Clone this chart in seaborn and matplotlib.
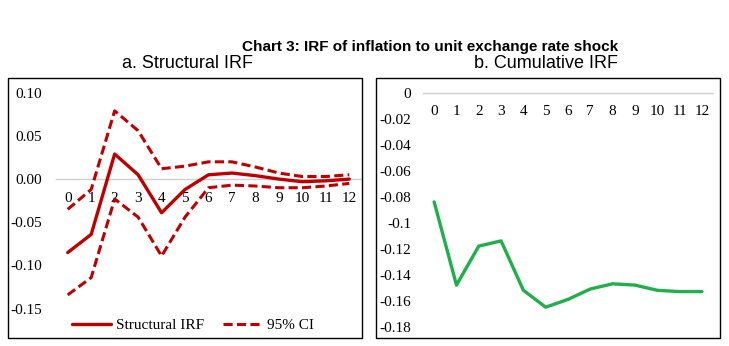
import matplotlib
matplotlib.use("Agg")
import matplotlib.pyplot as plt
import seaborn as sns
import pandas as pd
from matplotlib.patches import Rectangle

sns.set_theme(style="white")
plt.rcParams['font.family'] = ['Liberation Serif', 'DejaVu Serif']
plt.rcParams['text.color'] = 'black'

horizon = list(range(13))
structural_irf = [-0.085, -0.064, 0.029, 0.005, -0.039, -0.012, 0.005, 0.007, 0.004, 0.000, -0.003, -0.002, 0.000]
ci_upper = [-0.035, -0.012, 0.079, 0.056, 0.012, 0.015, 0.020, 0.020, 0.014, 0.007, 0.003, 0.003, 0.005]
ci_lower = [-0.134, -0.114, -0.023, -0.044, -0.089, -0.044, -0.010, -0.007, -0.008, -0.010, -0.010, -0.008, -0.005]
cumulative_irf = [-0.084, -0.148, -0.118, -0.114, -0.152, -0.165, -0.159, -0.151, -0.147, -0.148, -0.152, -0.153, -0.153]

left_yticks = [0.10, 0.05, 0.00, -0.05, -0.10, -0.15]
left_yticklabels = ["0.10", "0.05", "0.00", "-0.05", "-0.10", "-0.15"]
right_yticks = [0, -0.02, -0.04, -0.06, -0.08, -0.10, -0.12, -0.14, -0.16, -0.18]
right_yticklabels = ["0", "-0.02", "-0.04", "-0.06", "-0.08", "-0.1", "-0.12", "-0.14", "-0.16", "-0.18"]

RED = "#C00000"
GREEN = "#1FAF4B"
W, H = 729, 346
DASH = (0, (3, 1.4))

fig = plt.figure(figsize=(W / 100, H / 100), dpi=100)

def px_axes(x0, y0, x1, y1):
    return fig.add_axes([x0 / W, 1 - y1 / H, (x1 - x0) / W, (y1 - y0) / H])

# chart borders
for (x0, y0, x1, y1) in [(7.5, 77.5, 361.5, 337.5), (375.5, 77.5, 719.5, 337.5)]:
    fig.patches.append(Rectangle((x0 / W, 1 - y1 / H), (x1 - x0) / W, (y1 - y0) / H,
                                 transform=fig.transFigure, fill=False, edgecolor="black", linewidth=1.0))

df = pd.DataFrame({"h": horizon, "irf": structural_irf, "up": ci_upper, "lo": ci_lower, "cum": cumulative_irf})

# Left panel
ax1 = px_axes(56, 92.7, 361, 308.7)
sns.lineplot(data=df, x="h", y="irf", ax=ax1, color=RED, linewidth=2.4, label="Structural IRF")
sns.lineplot(data=df, x="h", y="up", ax=ax1, color=RED, linewidth=2.2, linestyle=DASH, label="95% CI")
sns.lineplot(data=df, x="h", y="lo", ax=ax1, color=RED, linewidth=2.2, linestyle=DASH)
ax1.set_xlim(-0.5, 12.5)
ax1.set_ylim(-0.15, 0.10)
ax1.set_yticks(left_yticks)
ax1.set_yticklabels(left_yticklabels)

# Right panel
ax2 = px_axes(423, 92.7, 713, 326.7)
sns.lineplot(data=df, x="h", y="cum", ax=ax2, color=GREEN, linewidth=2.4)
ax2.set_xlim(-0.5, 12.5)
ax2.set_ylim(-0.18, 0.0)
ax2.set_yticks(right_yticks)
ax2.set_yticklabels(right_yticklabels)

for ax in (ax1, ax2):
    ax.set_facecolor("none")
    for s in ("top", "right", "left"):
        ax.spines[s].set_visible(False)
    ax.spines["bottom"].set_position(("data", 0))
    ax.spines["bottom"].set_color("#D0D0D0")
    ax.spines["bottom"].set_linewidth(1.0)
    ax.spines["bottom"].set_zorder(0)
    ax.set_xticks(horizon)
    ax.set_xticklabels([str(h) for h in horizon])
    ax.tick_params(axis="x", length=0, pad=9, labelsize=11, colors="black")
    ax.set_xlabel("")
    ax.set_ylabel("")
    ax.grid(False)

ax1.tick_params(axis="y", length=0, pad=10, labelsize=11, colors="black")
ax2.tick_params(axis="y", length=0, pad=8.5, labelsize=11, colors="black")

leg = ax1.legend(loc="center", bbox_to_anchor=(193 / W, 1 - 325 / H), bbox_transform=fig.transFigure,
                 ncol=2, frameon=False, fontsize=11, handlelength=2.6, handletextpad=0.3,
                 columnspacing=1.25, borderpad=0)
for t in leg.get_texts():
    t.set_color("black")

fig.text(430 / W, 1 - 47.5 / H, "Chart 3: IRF of inflation to unit exchange rate shock",
         ha="center", va="center", fontsize=11, fontweight="bold", family="Liberation Sans", color="black")
fig.text(188 / W, 1 - 63 / H, "a. Structural IRF", ha="center", va="center",
         fontsize=13, family="Liberation Sans", color="black")
fig.text(546 / W, 1 - 63 / H, "b. Cumulative IRF", ha="center", va="center",
         fontsize=13, family="Liberation Sans", color="black")

fig.savefig("out.png", dpi=100)
